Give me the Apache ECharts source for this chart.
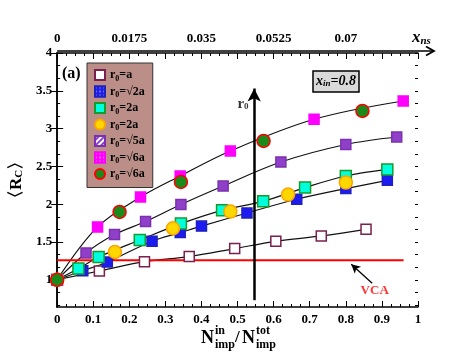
<!DOCTYPE html>
<html>
<head>
<meta charset="utf-8">
<script src="https://cdn.jsdelivr.net/npm/echarts@6/dist/echarts.min.js"></script>
<style>
  html, body { margin: 0; padding: 0; background: #fff; }
  #main { width: 471px; height: 364px; }
</style>
</head>
<body>
<div id="main"></div>
<script>
// data (x = N_in/N_tot, y = <R_C>)
var xA = [0, 0.117, 0.242, 0.366, 0.492, 0.606, 0.732, 0.856];
var yA = [1, 1.116, 1.24, 1.307, 1.413, 1.509, 1.58, 1.668];
var xS2 = [0, 0.071, 0.139, 0.263, 0.341, 0.40, 0.526, 0.664, 0.80, 0.915];
var yS2 = [1, 1.12, 1.235, 1.51, 1.624, 1.71, 1.884, 2.065, 2.206, 2.316];
var x2a = [0, 0.059, 0.115, 0.229, 0.343, 0.457, 0.571, 0.687, 0.80, 0.915];
var y2a = [1, 1.148, 1.30, 1.526, 1.743, 1.919, 2.038, 2.22, 2.373, 2.46];
var x2aC = [0, 0.160, 0.321, 0.48, 0.64, 0.80];
var y2aC = [1, 1.368, 1.681, 1.902, 2.127, 2.286];
var xS5 = [0, 0.080, 0.159, 0.245, 0.343, 0.46, 0.62, 0.80, 0.941];
var yS5 = [1, 1.355, 1.598, 1.77, 1.995, 2.24, 2.558, 2.79, 2.889];
var xS6 = [0, 0.112, 0.231, 0.341, 0.48, 0.712, 0.959];
var yS6 = [1, 1.699, 2.095, 2.373, 2.704, 3.123, 3.365];
var xS6C = [0, 0.173, 0.343, 0.572, 0.846];
var yS6C = [1, 1.897, 2.294, 2.836, 3.233];
var vcaLevel = 1.258;
var vcaEnd = 0.96;

var keys = ['a', 's2a', '2a', '2aC', 's5a', 's6a', 's6aC'];
var legendText = ['=a', '=\u221a2a', '=2a', '=2a', '=\u221a5a', '=\u221a6a', '=\u221a6a'];
var yLabels = [1, 1.5, 2, 2.5, 3, 3.5, 4];
var topLabels = [0, 0.2, 0.4, 0.6, 0.8];
var xnsScale = 0.0875;

var serif = 'Liberation Serif';

function pairs(xs, ys) {
    var out = [];
    for (var i = 0; i < xs.length; i++) out.push([xs[i], ys[i]]);
    return out;
}
function sixths() {
    var v = [];
    for (var k = 4; k <= 24; k++) v.push(k / 6);
    return v;
}

function fitLine(xs, ys) {
    return {
        type: 'line', data: pairs(xs, ys), smooth: 0.35, symbol: 'none',
        lineStyle: {color: '#111', width: 1.2}, z: 2, silent: true
    };
}
function marks(name, xs, ys, shape, size, fill, border, decal) {
    var st = {color: fill, borderColor: border, borderWidth: 1.5, opacity: 1};
    if (decal) st.decal = decal;
    return {
        type: 'scatter', name: name, data: pairs(xs, ys), symbol: shape,
        symbolSize: size, itemStyle: st, z: 5
    };
}
function arrow(from, to, width, size) {
    return {
        type: 'line', data: [], z: 4, silent: true,
        markLine: {
            silent: true, symbol: ['none', 'arrow'], symbolSize: size, label: {show: false},
            lineStyle: {color: '#000', width: width, type: 'solid'},
            data: [[{coord: from}, {coord: to}]]
        }
    };
}

var stripes = {symbol: 'rect', color: '#fff', dashArrayX: [1, 0], dashArrayY: [2, 2], rotation: -Math.PI / 4, symbolSize: 1};
var dots = {symbol: 'circle', color: '#fff', dashArrayX: [[2, 2]], dashArrayY: [2, 2], symbolSize: 0.7};

var myChart = echarts.init(document.getElementById('main'));

var tickFont = {fontFamily: serif, fontWeight: 'bold', fontSize: 13, color: '#000'};

var option = {
    animation: false,
    grid: {left: 54, right: 53, top: 53, bottom: 57},
    legend: {
        orient: 'vertical', left: 87, top: 63,
        padding: [6, 8, 6, 7], itemGap: 3, itemWidth: 10, itemHeight: 10,
        backgroundColor: '#bb8f88', borderColor: '#333', borderWidth: 1,
        data: keys,
        formatter: function (name) {
            var i = keys.indexOf(name);
            return '{b|r}{s|0}{b|' + legendText[i] + '}';
        },
        textStyle: {
            rich: {
                b: {fontFamily: serif, fontWeight: 'bold', fontSize: 12, color: '#000', lineHeight: 15},
                s: {fontFamily: serif, fontWeight: 'bold', fontSize: 8, color: '#000', verticalAlign: 'bottom', lineHeight: 10}
            }
        }
    },
    xAxis: [{
        type: 'value', min: 0, max: 1, interval: 0.1, position: 'bottom',
        axisLine: {lineStyle: {color: '#000', width: 1.5}},
        axisTick: {inside: true, length: 6, lineStyle: {color: '#000'}},
        minorTick: {show: true, splitNumber: 4, length: 3, lineStyle: {color: '#000'}},
        splitLine: {show: false},
        axisLabel: Object.assign({margin: 6}, tickFont)
    }, {
        type: 'value', min: 0, max: 1, interval: 0.1, position: 'top',
        axisLine: {lineStyle: {color: '#000', width: 1.5}},
        axisTick: {inside: true, length: 6, lineStyle: {color: '#000'}},
        minorTick: {show: true, splitNumber: 4, length: 3, lineStyle: {color: '#000'}},
        splitLine: {show: false},
        axisLabel: Object.assign({
            margin: 8, customValues: topLabels,
            formatter: function (v) { return String(parseFloat((v * xnsScale).toFixed(4))); }
        }, tickFont)
    }],
    yAxis: [{
        type: 'value', min: 0.64, max: 4, position: 'left',
        name: '\u3008R{c|C}\u3009', nameLocation: 'middle', nameGap: 28, nameRotate: 90,
        nameTextStyle: {
            fontFamily: serif, fontWeight: 'bold', fontSize: 17, color: '#000',
            rich: {c: {fontFamily: serif, fontWeight: 'bold', fontSize: 11, verticalAlign: 'bottom', lineHeight: 12}}
        },
        axisLine: {lineStyle: {color: '#000', width: 1.5}},
        axisTick: {inside: true, length: 6, customValues: yLabels, lineStyle: {color: '#000'}},
        splitLine: {show: false},
        axisLabel: Object.assign({margin: 5, customValues: yLabels}, tickFont)
    }, {
        type: 'value', min: 0.64, max: 4, position: 'right',
        axisLine: {lineStyle: {color: '#000', width: 1.5}},
        axisTick: {inside: true, length: 6, customValues: yLabels, lineStyle: {color: '#000'}},
        splitLine: {show: false}, axisLabel: {show: false}
    }, {
        type: 'value', min: 0.64, max: 4, position: 'left',
        axisLine: {show: false},
        axisTick: {inside: true, length: 3, customValues: sixths(), lineStyle: {color: '#000'}},
        splitLine: {show: false}, axisLabel: {show: false}
    }, {
        type: 'value', min: 0.64, max: 4, position: 'right',
        axisLine: {show: false},
        axisTick: {inside: true, length: 3, customValues: sixths(), lineStyle: {color: '#000'}},
        splitLine: {show: false}, axisLabel: {show: false}
    }],
    series: [
        fitLine(xA, yA), fitLine(xS2, yS2), fitLine(x2a, y2a), fitLine(xS5, yS5), fitLine(xS6, yS6),
        {
            type: 'line', data: [[0, vcaLevel], [vcaEnd, vcaLevel]], symbol: 'none',
            lineStyle: {color: '#ff0000', width: 2}, z: 3, silent: true
        },
        arrow([0.546, 0.73], [0.546, 3.53], 2.5, [10, 13]),
        arrow([0.873, 0.955], [0.815, 1.205], 1.3, [7, 9]),
        {
            type: 'scatter', data: [[0.88, 0.86]], symbolSize: 0,
            label: {show: true, position: 'inside', formatter: 'VCA', fontFamily: serif, fontWeight: 'bold', fontSize: 13, color: '#ff0000'}
        },
        {
            type: 'scatter', data: [[0.515, 3.33]], symbolSize: 0,
            label: {
                show: true, position: 'inside', formatter: '{b|r}{s|0}',
                rich: {
                    b: {fontFamily: serif, fontWeight: 'bold', fontSize: 15, color: '#000', lineHeight: 16},
                    s: {fontFamily: serif, fontWeight: 'bold', fontSize: 9, color: '#000', verticalAlign: 'bottom', lineHeight: 10}
                }
            }
        },
        marks('a', xA, yA, 'rect', 10, '#ffffff', '#7a1f4e'),
        marks('s2a', xS2, yS2, 'rect', 10, '#1c1cf0', '#2020c0', dots),
        marks('2a', x2a, y2a, 'rect', 11, '#00ffdd', '#1a9a2a'),
        marks('2aC', x2aC, y2aC, 'circle', 13, '#ffd700', '#ffa500'),
        marks('s5a', xS5, yS5, 'rect', 10, '#9040c8', '#7a30b0', stripes),
        marks('s6a', xS6, yS6, 'rect', 10, '#ff00ff', '#ff00ff', dots),
        marks('s6aC', xS6C, yS6C, 'circle', 13, '#1a8a1a', '#ff0000')
    ],
    graphic: [
        {type: 'text', left: 62, top: 66, style: {text: '(a)', font: 'bold 16px "Liberation Serif"', fill: '#000'}},
        {type: 'rect', shape: {x: 313, y: 71, width: 46, height: 21}, style: {fill: '#d9d9d9', stroke: '#000', lineWidth: 1.5}},
        {
            type: 'text', x: 336, y: 81,
            style: {
                text: '{x|x}{s|in}{x|=0.8}', align: 'center', verticalAlign: 'middle',
                rich: {
                    x: {font: 'italic bold 14px "Liberation Serif"', fill: '#000', lineHeight: 15},
                    s: {font: 'italic bold 9px "Liberation Serif"', fill: '#000', verticalAlign: 'bottom', lineHeight: 10}
                }
            }
        },
        {
            type: 'text', x: 412, y: 38,
            style: {
                text: '{x|x}{s|ns}', verticalAlign: 'middle',
                rich: {
                    x: {font: 'italic bold 17px "Liberation Serif"', fill: '#000', lineHeight: 17},
                    s: {font: 'italic bold 11px "Liberation Serif"', fill: '#000', verticalAlign: 'bottom', lineHeight: 10}
                }
            }
        },
        {type: 'text', x: 201, y: 338, style: {text: 'N', font: 'bold 18px "Liberation Serif"', fill: '#000', verticalAlign: 'middle'}},
        {type: 'text', x: 215, y: 331, style: {text: 'in', font: 'bold 12px "Liberation Serif"', fill: '#000', verticalAlign: 'middle'}},
        {type: 'text', x: 215, y: 345, style: {text: 'imp', font: 'bold 12px "Liberation Serif"', fill: '#000', verticalAlign: 'middle'}},
        {type: 'text', x: 235, y: 338, style: {text: '/', font: 'bold 17px "Liberation Serif"', fill: '#000', verticalAlign: 'middle'}},
        {type: 'text', x: 242, y: 338, style: {text: 'N', font: 'bold 18px "Liberation Serif"', fill: '#000', verticalAlign: 'middle'}},
        {type: 'text', x: 256, y: 331, style: {text: 'tot', font: 'bold 12px "Liberation Serif"', fill: '#000', verticalAlign: 'middle'}},
        {type: 'text', x: 256, y: 345, style: {text: 'imp', font: 'bold 12px "Liberation Serif"', fill: '#000', verticalAlign: 'middle'}}
    ]
};

myChart.setOption(option);

// extend the top axis into an arrow past the frame
var p0 = myChart.convertToPixel({xAxisIndex: 1, yAxisIndex: 0}, [0, 4]);
var p1 = myChart.convertToPixel({xAxisIndex: 1, yAxisIndex: 0}, [1, 4]);
var ay = p0[1] - 2;
var tipX = p1[0] + 16;
myChart.setOption({
    graphic: option.graphic.concat([
        {type: 'line', shape: {x1: p0[0], y1: ay, x2: tipX, y2: ay}, style: {stroke: '#000', lineWidth: 1.5}},
        {type: 'polyline', shape: {points: [[tipX - 8, ay - 4.5], [tipX, ay], [tipX - 8, ay + 4.5]]}, style: {stroke: '#000', lineWidth: 1.8, fill: null}}
    ])
});
</script>
</body>
</html>
